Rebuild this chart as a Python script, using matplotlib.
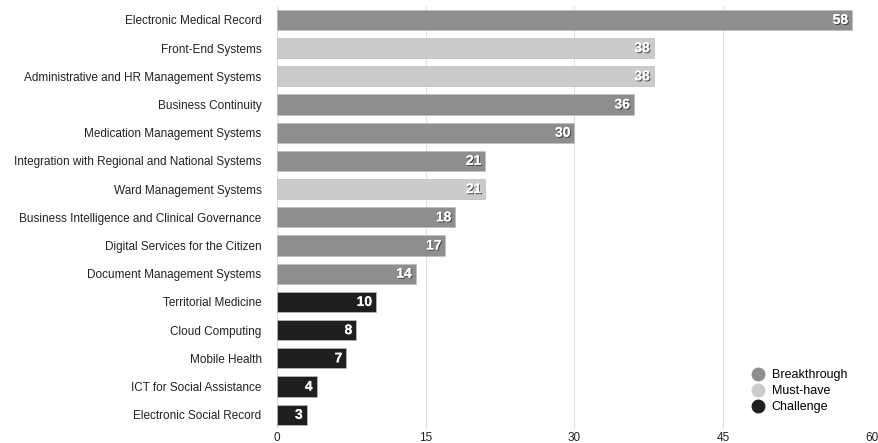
import matplotlib.pyplot as plt
import matplotlib.patheffects as pe
from matplotlib.lines import Line2D

plt.rcParams['font.family'] = ['Liberation Sans', 'DejaVu Sans']

categories = [
    "Electronic Medical Record",
    "Front-End Systems",
    "Administrative and HR Management Systems",
    "Business Continuity",
    "Medication Management Systems",
    "Integration with Regional and National Systems",
    "Ward Management Systems",
    "Business Intelligence and Clinical Governance",
    "Digital Services for the Citizen",
    "Document Management Systems",
    "Territorial Medicine",
    "Cloud Computing",
    "Mobile Health",
    "ICT for Social Assistance",
    "Electronic Social Record",
]
values = [58, 38, 38, 36, 30, 21, 21, 18, 17, 14, 10, 8, 7, 4, 3]
groups = ["Breakthrough", "Must-have", "Must-have", "Breakthrough", "Breakthrough",
          "Breakthrough", "Must-have", "Breakthrough", "Breakthrough", "Breakthrough",
          "Challenge", "Challenge", "Challenge", "Challenge", "Challenge"]
group_names = ["Breakthrough", "Must-have", "Challenge"]
xticks = [0, 15, 30, 45, 60]

colors = {"Breakthrough": "#8e8e8e", "Must-have": "#cbcbcb", "Challenge": "#1f1f1f"}

fig = plt.figure(figsize=(8.79, 4.43), dpi=100)
ax = fig.add_axes([0.315, 0.032, 0.677, 0.955])

ypos = list(range(len(categories)))
bar_colors = [colors[g] for g in groups]
ax.barh(ypos, values, height=0.72, color=bar_colors, edgecolor="#bdbdbd", linewidth=0.5, zorder=2)

# value labels inside bar ends
for y, v in zip(ypos, values):
    t = ax.text(v - 0.4, y, str(v), ha="right", va="center", color="white",
                fontsize=10, fontweight="bold", zorder=3)
    t.set_path_effects([pe.withSimplePatchShadow(offset=(0.8, -0.8), shadow_rgbFace="#333333", alpha=0.8),
                        pe.Normal()])

ax.set_yticks(ypos)
ax.set_yticklabels(categories, fontsize=8.5, color="#222222")
ax.set_ylim(len(categories) - 0.5, -0.5)
ax.set_xlim(0, 60)
ax.set_xticks(xticks)
ax.set_xticklabels([str(x) for x in xticks], fontsize=8.5, color="#222222")
ax.tick_params(axis="x", length=0, pad=2)
ax.tick_params(axis="y", length=0, pad=11)
ax.grid(axis="x", color="#e0e0e0", linewidth=0.8, zorder=0)
for s in ax.spines.values():
    s.set_visible(False)

handles = [Line2D([0], [0], marker="o", linestyle="", markersize=9,
                  markerfacecolor=colors[g], markeredgecolor=colors[g], label=g)
           for g in group_names]
ax.legend(handles=handles, loc="center left", bbox_to_anchor=(0.855, 0.117),
          bbox_transform=fig.transFigure, frameon=False, fontsize=9,
          handlelength=1, handletextpad=0.6, labelspacing=0.3, borderpad=0, borderaxespad=0)

fig.savefig("out.png", dpi=100)
